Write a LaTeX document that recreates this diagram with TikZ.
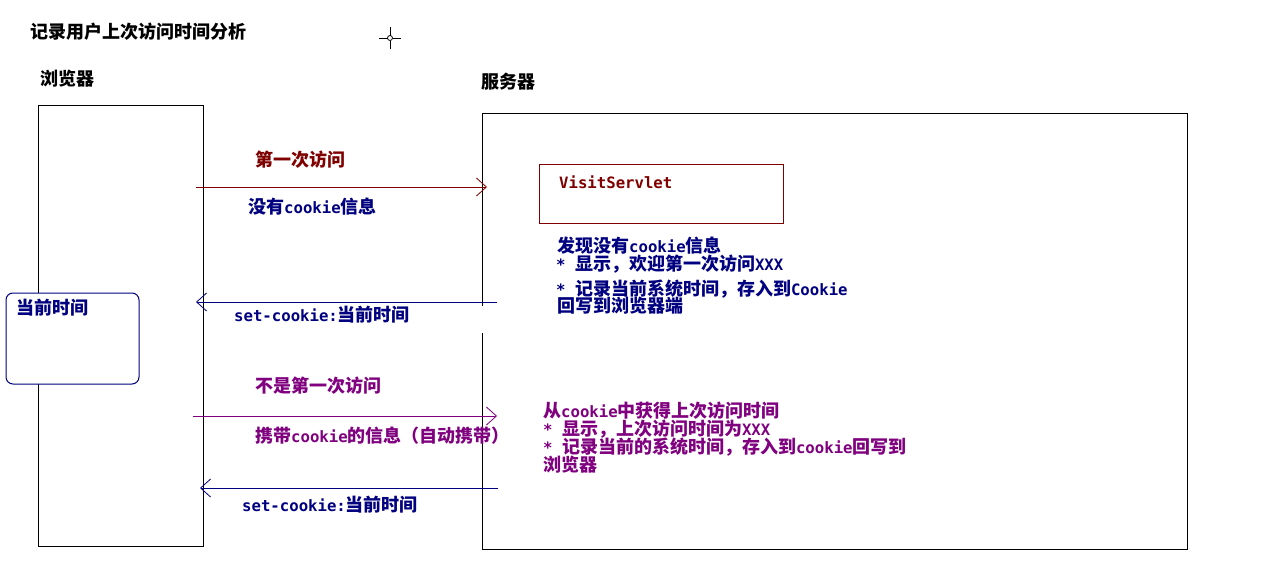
\documentclass[tikz,border=0pt]{standalone}
\usepackage{fontspec}
\setmainfont{Noto Sans CJK SC}
\newfontfamily\mono[Scale=0.87]{DejaVu Sans Mono}
\usetikzlibrary{arrows.meta}
\definecolor{dred}{HTML}{800000}
\definecolor{navyc}{HTML}{000080}
\definecolor{purp}{HTML}{800080}
\tikzset{
  txt/.style={inner sep=0pt, anchor=west, text height=13.5pt, text depth=2.5pt, font=\fontsize{18}{18}\selectfont\bfseries},
  frame/.style={draw=black, line width=1pt},
  msg/.style={line width=1pt, -{Straight Barb[length=10pt,width=18pt,line width=0.8pt]}},
}
\begin{document}
\begin{tikzpicture}[x=1pt,y=-1pt]
\useasboundingbox (0,0) rectangle (1261,570);
\fill[white] (0,0) rectangle (1261,570);
% title and headings
\node[txt] (title) at (30,33) {记录用户上次访问时间分析};
\node[txt] (brow) at (40,80) {浏览器};
\node[txt] (serv) at (481,83) {服务器};
% cursor
\coordinate (cur) at (390,38);
\draw[line width=1pt] ([xshift=-11pt]cur) -- ([xshift=-2.5pt]cur) ([xshift=2.5pt]cur) -- ([xshift=11pt]cur)
  ([yshift=-11pt]cur) -- ([yshift=-2.5pt]cur) ([yshift=2.5pt]cur) -- ([yshift=11pt]cur);
\draw[line width=0.8pt] (cur) circle (2.5pt);
% browser box
\coordinate (b1) at (38,105);
\coordinate (b2) at (203,105);
\coordinate (b3) at (203,546);
\coordinate (b4) at (38,546);
\draw[frame] (38,300) -- (b1) -- (b2) -- (b3) -- (b4) -- (38,375);
% server box
\coordinate (s1) at (482,113);
\coordinate (s2) at (1187,113);
\coordinate (s3) at (1187,549);
\coordinate (s4) at (482,549);
\draw[frame] (482,306) -- (s1) -- (s2) -- (s3) -- (s4) -- (482,333);
% current time box
\node[draw=navyc, line width=1pt, rounded corners=7pt, fill=white, minimum width=133pt, minimum height=91pt, inner sep=0pt] (cur box) at (72.5,338.5) {};
\node[txt, text=navyc] (curtxt) at (16,309) {当前时间};
% servlet box
\node[draw=dred, line width=1pt, minimum width=244pt, minimum height=59pt, inner sep=0pt] (servlet) at (661,193.5) {};
\node[txt, text=dred] (servtxt) at (559,183) {\mono VisitServlet};
% arrows endpoints
\coordinate (a1s) at (196,187); \coordinate (a1e) at (487,187);
\coordinate (a2s) at (497,302); \coordinate (a2e) at (196,302);
\coordinate (a3s) at (193,416); \coordinate (a3e) at (497,416);
\coordinate (a4s) at (498,488); \coordinate (a4e) at (200,488);
\draw[msg, draw=dred] (a1s) -- (a1e);
\draw[msg, draw=navyc] (a2s) -- (a2e);
\draw[msg, draw=purp] (a3s) -- (a3e);
\draw[msg, draw=navyc] (a4s) -- (a4e);
% arrow labels
\node[txt, text=dred] (l1) at (255,161) {第一次访问};
\node[txt, text=navyc] (l2) at (248,208) {没有{\mono cookie}信息};
\node[txt, text=navyc] (l3) at (234,316) {\mono set-cookie:{\rmfamily 当前时间}};
\node[txt, text=purp] (l4) at (255,387) {不是第一次访问};
\node[txt, text=purp] (l5) at (255,437) {携带{\mono cookie}的信息（自动携带）};
\node[txt, text=navyc] (l6) at (242,506) {\mono set-cookie:{\rmfamily 当前时间}};
% server notes (first)
\node[txt, text=navyc] (n1) at (557,247) {发现没有{\mono cookie}信息};
\node[txt, text=navyc] (n2) at (556,265) {{\mono*\ }显示，欢迎第一次访问{\mono XXX}};
\node[txt, text=navyc] (n3) at (556,290) {{\mono*\ }记录当前系统时间，存入到{\mono Cookie}};
\node[txt, text=navyc] (n4) at (557,307) {回写到浏览器端};
% server notes (second)
\node[txt, text=purp] (m1) at (543,412) {从{\mono cookie}中获得上次访问时间};
\node[txt, text=purp] (m2) at (543,430) {{\mono*\ }显示，上次访问时间为{\mono XXX}};
\node[txt, text=purp] (m3) at (543,448) {{\mono*\ }记录当前的系统时间，存入到{\mono cookie}回写到};
\node[txt, text=purp] (m4) at (543,466) {浏览器};
\end{tikzpicture}
\end{document}
